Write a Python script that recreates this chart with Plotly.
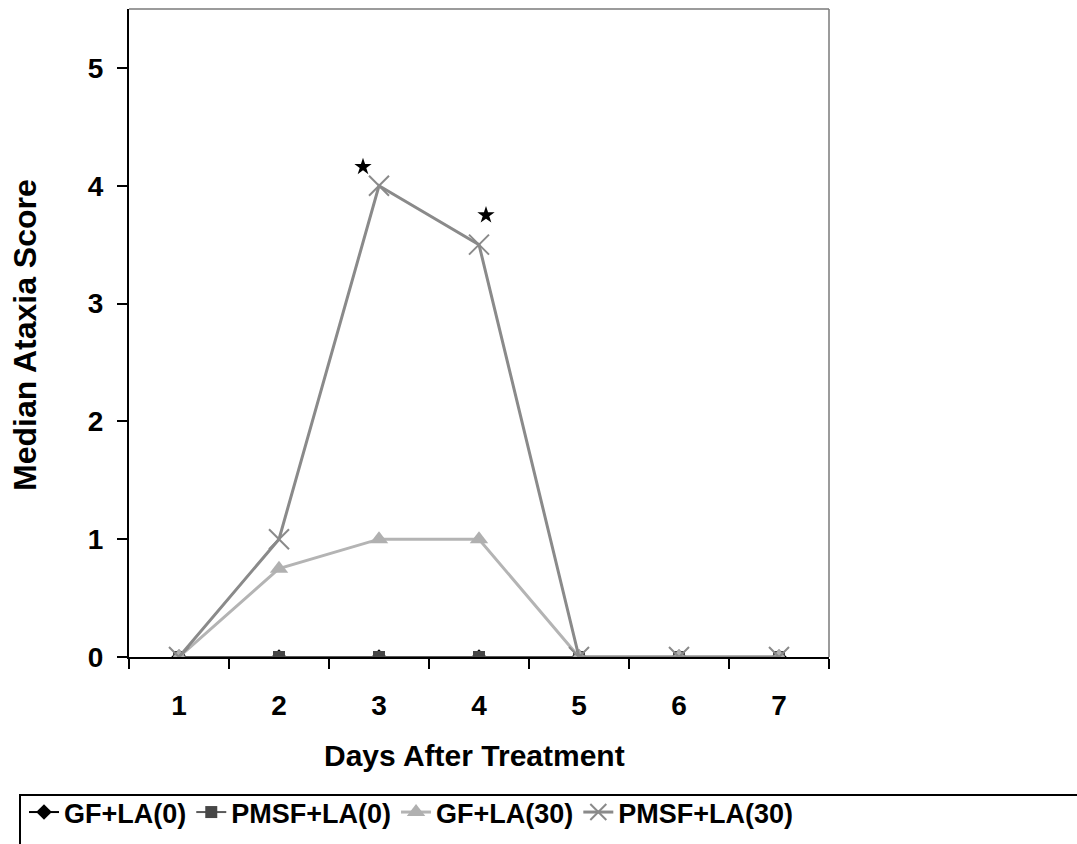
import plotly.graph_objects as go

days = [1, 2, 3, 4, 5, 6, 7]
gf_la0 = [0, 0, 0, 0, 0, 0, 0]
pmsf_la0 = [0, 0, 0, 0, 0, 0, 0]
gf_la30 = [0, 0.75, 1.0, 1.0, 0, 0, 0]
pmsf_la30 = [0, 1.0, 4.0, 3.5, 0, 0, 0]
star_x = [2.84, 4.07]
star_y = [4.16, 3.75]
y_ticks = [0, 1, 2, 3, 4, 5]

FONT = "Liberation Sans, Arial, sans-serif"

fig = go.Figure()
fig.add_trace(go.Scatter(x=days, y=gf_la0, name="GF+LA(0)", mode="lines+markers",
                         line=dict(color="black", width=2),
                         marker=dict(symbol="diamond", size=12, color="black")))
fig.add_trace(go.Scatter(x=days, y=pmsf_la0, name="PMSF+LA(0)", mode="lines+markers",
                         line=dict(color="#5a5a5a", width=2),
                         marker=dict(symbol="square", size=12, color="#474747")))
fig.add_trace(go.Scatter(x=days, y=gf_la30, name="GF+LA(30)", mode="lines+markers",
                         line=dict(color="#b4b4b4", width=3),
                         marker=dict(symbol="triangle-up", size=16, color="#b0b0b0")))
fig.add_trace(go.Scatter(x=days, y=pmsf_la30, name="PMSF+LA(30)", mode="lines+markers",
                         line=dict(color="#8a8a8a", width=3),
                         marker=dict(symbol="x-thin-open", size=20,
                                     line=dict(color="#6e6e6e", width=2))))
fig.add_trace(go.Scatter(x=star_x, y=star_y, mode="markers", showlegend=False,
                         marker=dict(symbol="star", size=13, color="black")))

fig.update_layout(
    width=1077, height=844,
    margin=dict(l=129, r=248, t=9, b=187, autoexpand=False),
    paper_bgcolor="white", plot_bgcolor="white",
    font=dict(family=FONT, size=28, color="black"),
    showlegend=True,
    legend=dict(orientation="h", x=-0.15, y=(657 - 788) / 648, xanchor="left", yanchor="top",
                borderwidth=0, bgcolor="rgba(0,0,0,0)",
                font=dict(family=FONT, size=27, color="black", weight="bold"),
                itemwidth=30, tracegroupgap=0),
    xaxis=dict(range=[0.5, 7.5], tickvals=days, ticktext=[str(d) for d in days],
               ticks="", showgrid=False, zeroline=False,
               showline=True, linecolor="black", linewidth=2,
               tickfont=dict(family=FONT, size=28, weight="bold"),
               ticklabelstandoff=22,
               minor=dict(tickmode="linear", tick0=0.5, dtick=1, ticks="outside",
                          ticklen=10, tickwidth=2, tickcolor="black", showgrid=False)),
    yaxis=dict(range=[0, 5.5], tickvals=y_ticks, ticks="outside", ticklen=10,
               tickwidth=2, tickcolor="black", showgrid=False, zeroline=False,
               showline=True, linecolor="black", linewidth=2,
               tickfont=dict(family=FONT, size=28, weight="bold"),
               ticklabelstandoff=8),
    shapes=[
        dict(type="line", xref="paper", yref="paper", x0=0, x1=1, y0=1, y1=1,
             line=dict(color="#7a7a7a", width=1.5)),
        dict(type="line", xref="paper", yref="paper", x0=1, x1=1, y0=0, y1=1,
             line=dict(color="#7a7a7a", width=1.5)),
        dict(type="rect", xref="paper", yref="paper",
             x0=(20 - 129) / 700, x1=(1085 - 129) / 700,
             y0=(657 - 795) / 648, y1=(657 - 852) / 648,
             line=dict(color="black", width=2), fillcolor="rgba(0,0,0,0)"),
    ],
    annotations=[
        dict(text="<b>Median Ataxia Score</b>", xref="paper", yref="paper",
             x=(25 - 129) / 700, y=(657 - 335) / 648, textangle=-90,
             showarrow=False, font=dict(family=FONT, size=32),
             xanchor="center", yanchor="middle"),
        dict(text="<b>Days After Treatment</b>", xref="paper", yref="paper",
             x=(474 - 129) / 700, y=(657 - 755) / 648,
             showarrow=False, font=dict(family=FONT, size=30),
             xanchor="center", yanchor="middle"),
    ],
)

fig.write_html("out.html")
